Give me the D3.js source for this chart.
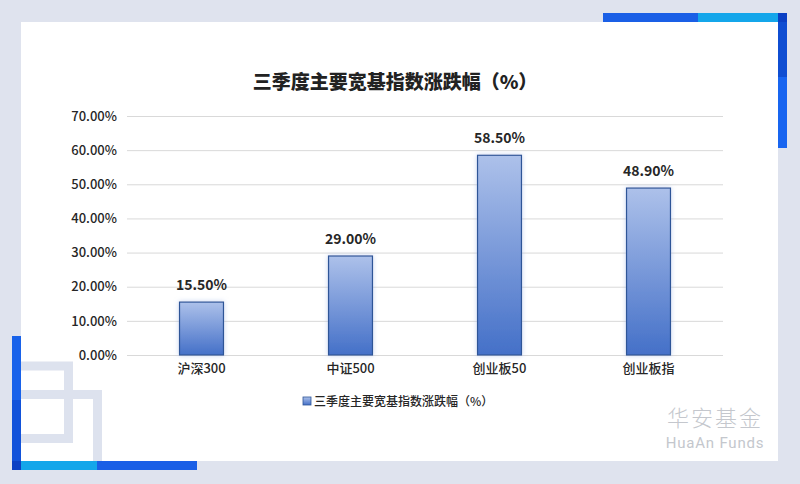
<!DOCTYPE html>
<html><head><meta charset="utf-8">
<script src="https://cdn.jsdelivr.net/npm/d3@7/dist/d3.min.js"></script>
<style>
html,body{margin:0;padding:0;background:#dfe3ee;}
svg{display:block;}
text{font-family:"Noto Sans CJK SC","Noto Sans",sans-serif;}
</style></head>
<body>
<svg id="chart" width="800" height="484"></svg>
<script>
const title = "三季度主要宽基指数涨跌幅（%）";
const seriesName = "三季度主要宽基指数涨跌幅（%）";
const categories = ["沪深300", "中证500", "创业板50", "创业板指"];
const values = [15.5, 29.0, 58.5, 48.9];
const yTicks = [0, 10, 20, 30, 40, 50, 60, 70];
const brandCN = "华安基金";
const brandEN = "HuaAn Funds";

const svg = d3.select("#chart");
const defs = svg.append("defs");
const grad = defs.append("linearGradient").attr("id","barGrad")
  .attr("x1",0).attr("y1",0).attr("x2",0).attr("y2",1);
grad.append("stop").attr("offset","0%").attr("stop-color","#adc1ea");
grad.append("stop").attr("offset","100%").attr("stop-color","#4470c8");
const glow = defs.append("filter").attr("id","glow").attr("x","-30%").attr("y","-10%").attr("width","160%").attr("height","120%");
glow.append("feGaussianBlur").attr("in","SourceAlpha").attr("stdDeviation",2.5).attr("result","b");
glow.append("feFlood").attr("flood-color","#9fb6e6").attr("flood-opacity",0.6);
glow.append("feComposite").attr("in2","b").attr("operator","in").attr("result","s");
const fm = glow.append("feMerge");
fm.append("feMergeNode").attr("in","s");
fm.append("feMergeNode").attr("in","SourceGraphic");

// background
svg.append("rect").attr("width",800).attr("height",484).attr("fill","#dfe3ee");
svg.append("rect").attr("x",21).attr("y",22).attr("width",757).attr("height",439).attr("fill","#ffffff");

// decorative squares (bottom-left)
svg.append("rect").attr("x",16.5).attr("y",366).attr("width",52).attr("height",72.5)
  .attr("fill","none").attr("stroke","#dde2ee").attr("stroke-width",9);
svg.append("rect").attr("x",16.5).attr("y",394.5).attr("width",81).attr("height",71)
  .attr("fill","none").attr("stroke","#dde2ee").attr("stroke-width",9);

// corner bars bottom-left
svg.append("rect").attr("x",12).attr("y",336).attr("width",9).attr("height",64).attr("fill","#1862ea");
svg.append("rect").attr("x",12).attr("y",400).attr("width",9).attr("height",61).attr("fill","#1152da");
svg.append("rect").attr("x",21).attr("y",461).attr("width",76).attr("height",9).attr("fill","#14a6ea");
svg.append("rect").attr("x",97).attr("y",461).attr("width",100).attr("height",9).attr("fill","#1a5fe6");
svg.append("rect").attr("x",12).attr("y",461).attr("width",9).attr("height",9).attr("fill","#0b40c4");
// corner bars top-right
svg.append("rect").attr("x",603).attr("y",13).attr("width",95).attr("height",9).attr("fill","#1a5fe6");
svg.append("rect").attr("x",698).attr("y",13).attr("width",80).attr("height",9).attr("fill","#14a6ea");
svg.append("rect").attr("x",778).attr("y",13).attr("width",9).attr("height",9).attr("fill","#0b40c4");
svg.append("rect").attr("x",778).attr("y",22).attr("width",9).attr("height",55).attr("fill","#0f4ed2");
svg.append("rect").attr("x",778).attr("y",77).attr("width",9).attr("height",71).attr("fill","#1865f0");

// scales
const plot = {left:127, right:723, top:116, bottom:355};
const x = d3.scaleBand().domain(categories).range([plot.left, plot.right]).paddingInner(0.705).paddingOuter(0.3525);
const y = d3.scaleLinear().domain([0,70]).range([plot.bottom, plot.top]);

// title
svg.append("text").attr("x",395).attr("y",89).attr("text-anchor","middle")
  .attr("font-size",19).attr("font-weight","900").attr("fill","#222222").text(title);

// gridlines
const yAxis = d3.axisLeft(y).tickValues(yTicks).tickSize(-(plot.right-plot.left)).tickPadding(10)
  .tickFormat(d => d.toFixed(2) + "%");
const gy = svg.append("g").attr("transform",`translate(${plot.left},0)`).call(yAxis);
gy.select(".domain").remove();
gy.selectAll(".tick line").attr("stroke","#d9d9d9").attr("stroke-width",1);
gy.selectAll(".tick text").attr("font-size",13).attr("fill","#262626").attr("font-weight","500")
  .style("font-family",'"Noto Sans CJK SC","Noto Sans",sans-serif');

// bars
svg.append("g").selectAll("rect").data(values).join("rect")
  .attr("x",(d,i)=>x(categories[i]))
  .attr("y",d=>y(d))
  .attr("width",x.bandwidth())
  .attr("height",d=>y(0)-y(d))
  .attr("fill","url(#barGrad)")
  .attr("stroke","#2f5597").attr("stroke-width",1.2)
  .attr("filter","url(#glow)");

// value labels
svg.append("g").selectAll("text").data(values).join("text")
  .attr("x",(d,i)=>x(categories[i])+x.bandwidth()/2)
  .attr("y",d=>y(d)-12)
  .attr("text-anchor","middle").attr("font-size",14).attr("font-weight","bold").attr("fill","#262626")
  .text(d=>d.toFixed(2)+"%");

// x axis labels
const xAxis = d3.axisBottom(x).tickSize(0).tickPadding(9);
const gx = svg.append("g").attr("transform",`translate(0,${plot.bottom})`).call(xAxis);
gx.select(".domain").remove();
gx.selectAll(".tick text").attr("font-size",13).attr("fill","#262626").attr("font-weight","500")
  .style("font-family",'"Noto Sans CJK SC","Noto Sans",sans-serif');

// legend
svg.append("rect").attr("x",303).attr("y",397).attr("width",8).attr("height",8)
  .attr("fill","url(#barGrad)").attr("stroke","#2f5597").attr("stroke-width",0.8);
svg.append("text").attr("x",314).attr("y",405.5).attr("font-size",12).attr("fill","#262626").attr("font-weight","500").text(seriesName);

// watermark
svg.append("text").attr("x",715).attr("y",426).attr("text-anchor","middle")
  .attr("font-size",22).attr("fill","#c4c7cd").attr("font-weight","300").attr("letter-spacing",2).text(brandCN);
svg.append("text").attr("x",715).attr("y",448).attr("text-anchor","middle")
  .style("font-family","Roboto, sans-serif")
  .attr("font-size",15).attr("fill","#c4c7cd").attr("letter-spacing",0.8).text(brandEN);
</script>
</body></html>
